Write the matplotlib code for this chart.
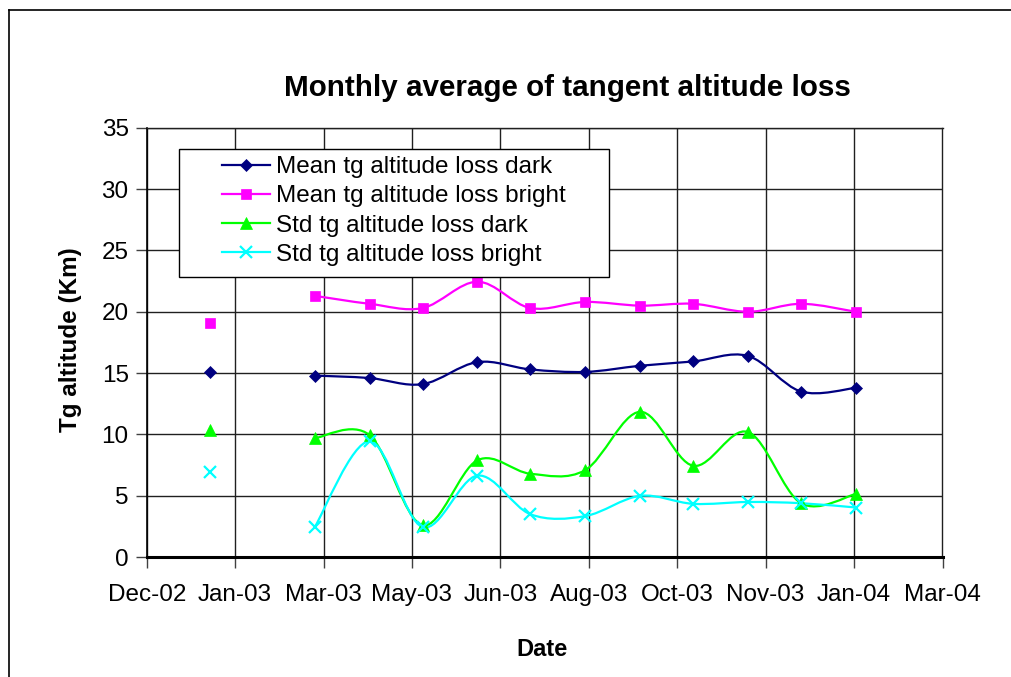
import datetime as dt
import numpy as np
import matplotlib
matplotlib.use("Agg")
import matplotlib.pyplot as plt
import matplotlib.dates as mdates
from matplotlib.path import Path
from matplotlib.patches import PathPatch, Rectangle
from matplotlib.lines import Line2D

# monthly values (Feb-03 missing)
months = [dt.date(2003, 1, 15), dt.date(2003, 2, 15), dt.date(2003, 3, 15),
          dt.date(2003, 4, 15), dt.date(2003, 5, 15), dt.date(2003, 6, 15),
          dt.date(2003, 7, 15), dt.date(2003, 8, 15), dt.date(2003, 9, 15),
          dt.date(2003, 10, 15), dt.date(2003, 11, 15), dt.date(2003, 12, 15),
          dt.date(2004, 1, 15)]
mean_dark = [15.1, np.nan, 14.8, 14.6, 14.1, 15.9, 15.3, 15.1, 15.6, 15.95, 16.4, 13.5, 13.8]
mean_bright = [19.05, np.nan, 21.3, 20.65, 20.3, 22.45, 20.3, 20.8, 20.5, 20.65, 20.0, 20.65, 20.0]
std_dark = [10.4, np.nan, 9.7, 9.95, 2.6, 7.9, 6.8, 7.1, 11.85, 7.45, 10.2, 4.4, 5.15]
std_bright = [6.95, np.nan, 2.45, 9.45, 2.45, 6.65, 3.5, 3.35, 5.0, 4.35, 4.5, 4.4, 4.05]

labels = ["Mean tg altitude loss dark", "Mean tg altitude loss bright",
          "Std tg altitude loss dark", "Std tg altitude loss bright"]
colors = ["#000080", "#FF00FF", "#00FF00", "#00FFFF"]
markers = ["D", "s", "^", "x"]
msizes = [6.5, 7.5, 8, 8]

axis_start = dt.date(2002, 12, 10)
tick_step = 50  # days
n_ticks = 10

W, H = 1012, 677
plt.rcParams['font.family'] = ['Liberation Sans', 'DejaVu Sans']
fig = plt.figure(figsize=(W / 100, H / 100), dpi=100)


def fx(px):
    return px / W


def fy(py):
    return 1 - py / H


# outer chart frame (top and left visible)
fig.add_artist(Line2D([fx(8.5), fx(1020)], [fy(10), fy(10)], color='black', lw=1.2))
fig.add_artist(Line2D([fx(8.5), fx(8.5)], [fy(10), fy(690)], color='black', lw=1.2))

ax_l, ax_r, ax_t, ax_b = 146.7, 942.5, 127.7, 557.2
ax = fig.add_axes([fx(ax_l), fy(ax_b), fx(ax_r - ax_l), (ax_b - ax_t) / H])

x = mdates.date2num(months)


def smooth_path(xs, ys):
    # Excel-like smoothed line (cardinal spline as cubic Bezier)
    verts = [(xs[0], ys[0])]
    codes = [Path.MOVETO]
    n = len(xs)
    for i in range(n - 1):
        x0, y0 = (xs[i - 1], ys[i - 1]) if i > 0 else (xs[i], ys[i])
        x3, y3 = (xs[i + 2], ys[i + 2]) if i + 2 < n else (xs[i + 1], ys[i + 1])
        c1 = (xs[i] + (xs[i + 1] - x0) / 6, ys[i] + (ys[i + 1] - y0) / 6)
        c2 = (xs[i + 1] - (x3 - xs[i]) / 6, ys[i + 1] - (y3 - ys[i]) / 6)
        verts += [c1, c2, (xs[i + 1], ys[i + 1])]
        codes += [Path.CURVE4] * 3
    return Path(verts, codes)


handles = []
for vals, lab, col, mk, ms in zip([mean_dark, mean_bright, std_dark, std_bright],
                                  labels, colors, markers, msizes):
    vals = np.array(vals, dtype=float)
    ok = ~np.isnan(vals)
    # split into runs of valid values
    runs, cur = [], []
    for i in range(len(vals)):
        if ok[i]:
            cur.append(i)
        elif cur:
            runs.append(cur)
            cur = []
    if cur:
        runs.append(cur)
    for r in runs:
        if len(r) > 1:
            ax.add_patch(PathPatch(smooth_path(x[r], vals[r]), fill=False,
                                   edgecolor=col, lw=1.6, zorder=3))
    mew = 1.6 if mk == 'x' else 0.5
    ax.plot(x[ok], vals[ok], linestyle='none', marker=mk, color=col,
            markersize=ms, markeredgewidth=mew, zorder=4, clip_on=False)
    handles.append(Line2D([], [], color=col, lw=1.6, marker=mk, markersize=ms,
                          markeredgewidth=mew))

ticks = [mdates.date2num(axis_start + dt.timedelta(days=tick_step * k)) for k in range(n_ticks)]
ax.set_xlim(ticks[0], ticks[-1])
ax.set_xticks(ticks)
ax.xaxis.set_major_formatter(mdates.DateFormatter('%b-%y'))
ax.set_ylim(0, 35)
ax.set_yticks(np.arange(0, 36, 5))
ax.grid(True, color='#202020', lw=1.0)
ax.set_axisbelow(True)
ax.tick_params(axis='both', labelsize=17.5, length=8, width=1, color='#404040', pad=11)
ax.tick_params(axis='y', pad=5)
for s in ['top', 'right']:
    ax.spines[s].set_color('#202020')
    ax.spines[s].set_linewidth(1.0)
ax.spines['left'].set_linewidth(1.2)
ax.spines['bottom'].set_linewidth(2.2)

fig.text(fx(567), fy(88), "Monthly average of tangent altitude loss",
         ha='center', va='center', fontsize=21.3, fontweight='bold')
fig.text(fx(70), fy(340), "Tg altitude (Km)", ha='center', va='center',
         rotation=90, fontsize=17.5, fontweight='bold')
fig.text(fx(542), fy(649), "Date", ha='center', va='center',
         fontsize=17, fontweight='bold')

# legend box
lg_l, lg_t, lg_r, lg_b = 178.7, 149.3, 608.7, 277.0
fig.add_artist(Rectangle((fx(lg_l), fy(lg_b)), fx(lg_r - lg_l), (lg_b - lg_t) / H,
                         facecolor='white', edgecolor='black', lw=1.0, zorder=5))
leg = fig.legend(handles, labels, loc='upper left',
                 bbox_to_anchor=(fx(221.7), fy(156)), frameon=False,
                 borderpad=0, borderaxespad=0, handlelength=2.0,
                 handletextpad=0.25, labelspacing=0.3, fontsize=17.5)
leg.set_zorder(6)

fig.savefig("out.png", dpi=100)
